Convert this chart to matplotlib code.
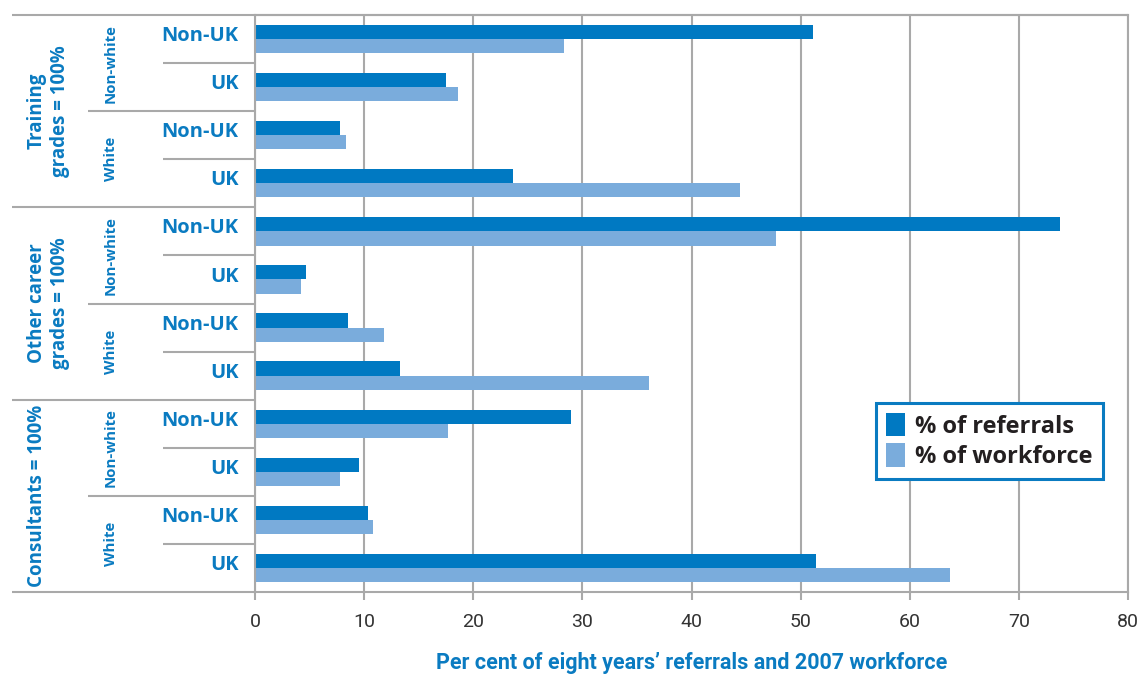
import matplotlib
matplotlib.use("Agg")
import matplotlib.pyplot as plt
from matplotlib.patches import Patch
from matplotlib import font_manager
import numpy as np

# ---- data -------------------------------------------------------------
grade_groups = ["Training\ngrades = 100%", "Other career\ngrades = 100%", "Consultants = 100%"]
ethnic_groups = ["Non-white", "White"]
origin_labels = ["Non-UK", "UK"]

# rows run top to bottom: grade -> ethnicity -> origin
referrals = [51.1, 17.5, 7.8, 23.6,
             73.8, 4.7, 8.5, 13.3,
             29.0, 9.5, 10.4, 51.4]
workforce = [28.3, 18.6, 8.3, 44.4,
             47.7, 4.2, 11.8, 36.1,
             17.7, 7.8, 10.8, 63.7]

x_ticks = [0, 10, 20, 30, 40, 50, 60, 70, 80]
series_names = ["% of referrals", "% of workforce"]
x_title = "Per cent of eight years\u2019 referrals and 2007 workforce"

# ---- style -------------------------------------------------------------
DARK = "#0079c2"
LIGHT = "#7aacdc"
LABEL_BLUE = "#0a7bc1"
GRID = "#a9a9a9"
TEXT_DARK = "#231f20"

available = {f.name for f in font_manager.fontManager.ttflist}
narrow = "Liberation Sans Narrow" if "Liberation Sans Narrow" in available else "Roboto"
main_font = "Open Sans" if "Open Sans" in available else "DejaVu Sans"
plt.rcParams["font.family"] = [main_font, "DejaVu Sans"]

W, H = 1140, 674
fig = plt.figure(figsize=(W / 100, H / 100), dpi=100)
left_px, right_px, top_px, bottom_px = 255, 1128, 15, 592
ax = fig.add_axes([left_px / W, 1 - bottom_px / H,
                   (right_px - left_px) / W, (bottom_px - top_px) / H])

n = len(referrals)
rows = np.arange(n)
bar_h = 0.295
ax.barh(rows - bar_h / 2, referrals, height=bar_h, color=DARK, zorder=2)
ax.barh(rows + bar_h / 2, workforce, height=bar_h, color=LIGHT, zorder=2)

ax.set_xlim(x_ticks[0], x_ticks[-1])
ax.set_ylim(n - 0.5, -0.5)
ax.set_xticks(x_ticks)
ax.set_xticklabels([str(t) for t in x_ticks], family=[narrow, "DejaVu Sans"],
                   fontsize=14, color="#333333")
ax.set_yticks([])
ax.tick_params(axis="x", length=6, width=1.5, color=GRID, pad=9)

ax.xaxis.grid(True, color=GRID, lw=1.5)
ax.set_axisbelow(True)
for side in ("left", "bottom", "top", "right"):
    ax.spines[side].set_color(GRID)
    ax.spines[side].set_linewidth(1.5)

# label-area columns in axes fraction
span = right_px - left_px
x_outer = (12 - left_px) / span
x_mid = (88 - left_px) / span
x_inner = (163 - left_px) / span

trans = matplotlib.transforms.blended_transform_factory(ax.transAxes, ax.transData)
line_kw = dict(color=GRID, lw=1.5, clip_on=False, solid_capstyle="butt")

# outer frame lines extended across the label area
ax.plot([x_outer, 1], [1, 1], transform=ax.transAxes, **line_kw)
ax.plot([x_outer, 0], [0, 0], transform=ax.transAxes, **line_kw)

per_group = len(ethnic_groups) * len(origin_labels)
for g in range(1, len(grade_groups)):
    ax.plot([x_outer, 0], [g * per_group - 0.5] * 2, transform=trans, **line_kw)
for k in range(len(grade_groups) * len(ethnic_groups)):
    y = k * len(origin_labels) + len(origin_labels) - 0.5
    if y < n - 0.5 and (y + 0.5) % per_group != 0:
        ax.plot([x_mid, 0], [y, y], transform=trans, **line_kw)
for r in range(0, n, 2):
    ax.plot([x_inner, 0], [r + 0.5] * 2, transform=trans, **line_kw)

# row labels
for r in range(n):
    ax.text(-0.019, r - 0.06, origin_labels[r % 2], transform=trans,
            ha="right", va="center", fontsize=14.5, fontweight="bold",
            color=LABEL_BLUE)

# ethnicity labels
for k in range(len(grade_groups) * len(ethnic_groups)):
    yc = k * 2 + 0.5
    ax.text((111 - left_px) / span, yc, ethnic_groups[k % 2], transform=trans,
            rotation=90, ha="center", va="center", fontsize=10.8,
            fontweight="bold", color=LABEL_BLUE)

# grade-group labels
for g, name in enumerate(grade_groups):
    yc = g * per_group + (per_group - 1) / 2
    ax.text((27 - left_px) / span, yc, name, transform=trans, rotation=90,
            ha="left", va="center", multialignment="center", fontsize=13.5,
            fontweight="bold", color=LABEL_BLUE, linespacing=1.2)

ax.set_xlabel(x_title, family=[narrow, "DejaVu Sans"], fontsize=15.5,
              fontweight="bold", color=LABEL_BLUE, labelpad=15)

handles = [Patch(facecolor=DARK, edgecolor="none"),
           Patch(facecolor=LIGHT, edgecolor="none")]
leg = ax.legend(handles, series_names, loc="upper left",
                bbox_to_anchor=((876 - left_px) / span, 1 - (403 - top_px) / (bottom_px - top_px)),
                borderaxespad=0,
                frameon=True, fancybox=False, edgecolor=LABEL_BLUE,
                framealpha=1, handlelength=0.8, handleheight=1.15,
                handletextpad=0.45, labelspacing=0.2, borderpad=0.42,
                prop={"size": 17, "weight": "bold"})
leg.get_frame().set_linewidth(2.2)
for t in leg.get_texts():
    t.set_color(TEXT_DARK)

fig.savefig("out.png", dpi=100)
